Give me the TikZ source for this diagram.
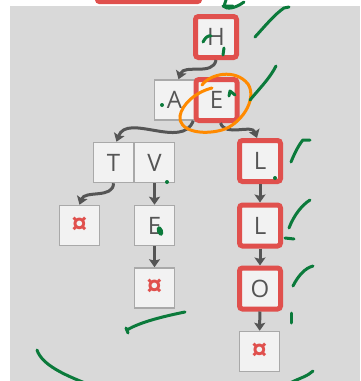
\documentclass[tikz,border=0pt]{standalone}
\usepackage{fontspec}
\setmainfont{Open Sans}
\usepackage{tikz}
\usetikzlibrary{positioning, arrows.meta, calc}

\definecolor{bggray}{HTML}{D9D9D9}
\definecolor{boxfill}{HTML}{F2F2F2}
\definecolor{boxline}{HTML}{A9A9A9}
\definecolor{hotred}{HTML}{E0504D}
\definecolor{txtgray}{HTML}{555555}
\definecolor{pen}{HTML}{0B7A3B}
\definecolor{marker}{HTML}{FF8A00}

\begin{document}
\begin{tikzpicture}[
    x=1pt, y=-1pt,
    cell/.style={draw=boxline, fill=boxfill, line width=1.5pt,
                 minimum size=40pt, inner sep=0pt,
                 font=\fontsize{24}{26}\selectfont, text=txtgray},
    hit/.style={cell, draw=hotred, line width=5pt, minimum size=41pt,
                rounded corners=3pt},
    endmark/.style={cell, text=hotred, font=\fontsize{30}{32}\selectfont\bfseries},
    arr/.style={-{Stealth[length=8pt, width=11pt, inset=1.5pt]},
                line width=3pt, draw=txtgray},
    ink/.style={draw=pen, line width=3pt, line cap=round, line join=round},
    circ/.style={draw=marker, line width=3pt, line cap=round},
]

% canvas
\useasboundingbox (0,0) rectangle (360,381);
\fill[bggray] (10,5.5) rectangle (360,381);
\fill[hotred, rounded corners=4pt] (95,-12) rectangle (202,4);

% trie
\node[hit] (h) at (216,37) {H};
\node[cell] (a) at (174.5,100) {A};
\node[hit] (e) at (216.5,100) {E};
\node[cell] (t) at (113.5,162.5) {T};
\node[cell] (v) at (154.5,162.5) {V};
\node[hit] (l1) at (260,161) {L};
\node[endmark] (end1) at (79.5,225.5) {¤};
\node[cell] (e2) at (154.5,225.5) {E};
\node[hit] (l2) at (260,225.5) {L};
\node[endmark] (end2) at (154.5,288) {¤};
\node[hit] (o) at (260,288.5) {O};
\node[endmark] (end3) at (259.5,351.5) {¤};

% links
\draw[arr] (h.south) to[out=-100,in=70] ([xshift=4pt]a.north);
\draw[arr] ([xshift=-2pt]a.south east) to[out=-110,in=70] ([xshift=3pt]t.north);
\draw[arr] ([xshift=4pt]e.south) to[out=-70,in=110] ([xshift=-3pt]l1.north);
\draw[arr] (t.south) to[out=-90,in=70] (end1.north);
\draw[arr] (v) -- (e2);
\draw[arr] (e2) -- (end2);
\draw[arr] (l1) -- (l2);
\draw[arr] (l2) -- (o);
\draw[arr] (o) -- (end3);

% hand marks
\draw[circ] (202,85) .. controls (210,74) and (235,68) .. (248,84)
  .. controls (258,100) and (240,125) .. (222,130)
  .. controls (200,136) and (178,130) .. (180,116)
  .. controls (182,104) and (196,92) .. (212,88);
\draw[ink] (223,6) .. controls (227,10) and (236,8) .. (244,2);
\draw[ink] (226,0) -- (224,6) -- (233,6);
\draw[ink] (255,37) .. controls (265,26) and (275,14) .. (284,8) -- (289,7);
\draw[ink] (203,42) .. controls (205,38) and (208,35) .. (211,36);
\draw[ink] (224,48) -- (223,55);
\draw[ink] (250,100) .. controls (260,88) and (270,78) .. (276,66);
\fill[pen] (162,105) circle (2pt);
\draw[ink] (229,96) -- (230,91) -- (235,95);
\draw[ink] (291,162) .. controls (295,152) and (300,143) .. (303,140) -- (310,140);
\fill[pen] (167,182) circle (2pt);
\fill[pen] (275,178) circle (2pt);
\draw[ink] (289,228) .. controls (294,215) and (302,205) .. (310,200);
\draw[ink] (285,238) -- (294,239);
\fill[pen, rotate around={20:(160,231)}] (160,231) ellipse (3pt and 5pt);
\draw[ink] (293,286) .. controls (298,276) and (305,268) .. (313,266);
\draw[ink] (291,313) -- (291,323);
\draw[ink] (127,330) .. controls (140,322) and (165,316) .. (185,312);
\draw[ink] (126,328) -- (128,333);
\draw[ink] (37,350) .. controls (42,365) and (65,375) .. (85,383);
\draw[ink] (290,383) .. controls (300,378) and (308,376) .. (313,371);

\end{tikzpicture}
\end{document}
